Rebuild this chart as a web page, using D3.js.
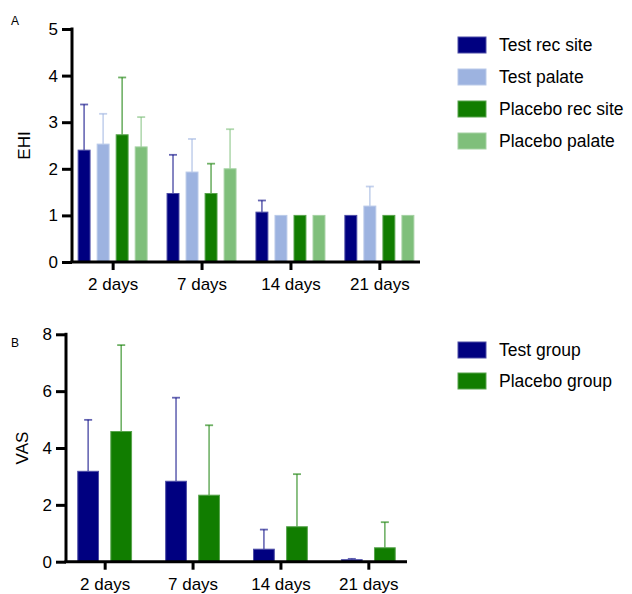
<!DOCTYPE html>
<html><head><meta charset="utf-8">
<script src="https://cdn.jsdelivr.net/npm/d3@7"></script>
<style>body{margin:0;background:#fff}svg{display:block}text{font-family:"Liberation Sans",Arial,Helvetica,sans-serif;fill:#000}</style>
</head><body><svg id="c" width="632" height="594"></svg>
<script>
const days = ["2 days","7 days","14 days","21 days"];
// Panel A (EHI)
const seriesA = ["Test rec site","Test palate","Placebo rec site","Placebo palate"];
const colorsA = ["#000080","#9db3e0","#117d00","#7fbf7b"];
const meanTestRec     = [2.40,1.47,1.07,1.00];
const upperTestRec    = [3.38,2.30,1.32,1.00];
const meanTestPal     = [2.53,1.93,1.00,1.20];
const upperTestPal    = [3.18,2.64,1.00,1.62];
const meanPlacRec     = [2.73,1.47,1.00,1.00];
const upperPlacRec    = [3.96,2.11,1.00,1.00];
const meanPlacPal     = [2.47,2.00,1.00,1.00];
const upperPlacPal    = [3.11,2.85,1.00,1.00];
const ticksA = [0,1,2,3,4,5];
// Panel B (VAS)
const seriesB = ["Test group","Placebo group"];
const colorsB = ["#000080","#117d00"];
const meanTestGrp  = [3.18,2.83,0.44,0.07];
const upperTestGrp = [4.99,5.77,1.13,0.10];
const meanPlacGrp  = [4.58,2.34,1.23,0.49];
const upperPlacGrp = [7.62,4.80,3.08,1.39];
const ticksB = [0,2,4,6,8];

const svg = d3.select("#c");

function panel(cfg){
  const g = svg.append("g");
  const x = d3.scalePoint().domain(days).range([cfg.x0,cfg.x1]).padding(cfg.pad);
  const xi = d3.scaleBand().domain(cfg.series).range([-cfg.half,cfg.half]).paddingInner(cfg.pin);
  const y = d3.scaleLinear().domain([0,cfg.ymax]).range([cfg.yb,cfg.yt]);
  const rows = [];
  cfg.series.forEach((s,si)=>{
    days.forEach((d,di)=>rows.push({s,si,d,m:cfg.means[si][di],u:cfg.uppers[si][di]}));
  });
  const eb = g.append("g");
  rows.filter(r=>r.u>r.m+0.001).forEach(r=>{
    const cx = x(r.d)+xi(r.s)+xi.bandwidth()/2;
    const col = cfg.colors[r.si];
    eb.append("line").attr("x1",cx).attr("x2",cx).attr("y1",y(r.m)).attr("y2",y(r.u))
      .attr("stroke",col).attr("stroke-opacity",0.6).attr("stroke-width",1.6);
    eb.append("line").attr("x1",cx-4).attr("x2",cx+4).attr("y1",y(r.u)).attr("y2",y(r.u))
      .attr("stroke",col).attr("stroke-opacity",0.6).attr("stroke-width",1.8);
  });
  g.append("g").selectAll("rect").data(rows).join("rect")
    .attr("x",r=>x(r.d)+xi(r.s)+0.5).attr("width",xi.bandwidth()-1)
    .attr("y",r=>y(r.m)).attr("height",r=>y(0)-y(r.m))
    .attr("fill",r=>cfg.colors[r.si])
    .attr("stroke",r=>d3.interpolateRgb(cfg.colors[r.si],"#fff")(0.3)).attr("stroke-width",1);
  const ya = g.append("g").attr("transform",`translate(${cfg.x0},0)`)
    .call(d3.axisLeft(y).tickValues(cfg.ticks).tickSize(10).tickPadding(4).tickFormat(d3.format("d")));
  const xa = g.append("g").attr("transform",`translate(0,${cfg.yb})`)
    .call(d3.axisBottom(x).tickSize(8).tickPadding(8));
  [ya,xa].forEach(a=>{
    a.select(".domain").attr("stroke","#000").attr("stroke-width",3).style("stroke-width","3px").style("stroke","#000");
    a.selectAll(".tick line").attr("stroke","#000").attr("stroke-width",3).style("stroke-width","3px").style("stroke","#000");
    a.selectAll("text").attr("font-size",17).attr("fill","#000").attr("font-family","Liberation Sans, Arial, sans-serif");
  });
  ya.select(".domain").attr("d",`M0,${cfg.yt-1.5}V${cfg.yb}`);
  xa.select(".domain").attr("d",`M${cfg.x0-1.5},0H${cfg.x1}`);
  g.append("text").attr("transform",`translate(${cfg.lx},${(cfg.yt+cfg.yb)/2}) rotate(-90)`)
    .attr("text-anchor","middle").attr("dy","0.35em").attr("font-size",17).text(cfg.ylabel);
  g.append("text").attr("x",11).attr("y",cfg.tagY).attr("font-size",12).text(cfg.tag);
  const lg = g.append("g");
  cfg.series.forEach((s,i)=>{
    const cy = cfg.legY + i*cfg.legStep;
    lg.append("rect").attr("x",458).attr("y",cy-8).attr("width",28).attr("height",16)
      .attr("fill",cfg.colors[i]).attr("stroke",d3.interpolateRgb(cfg.colors[i],"#fff")(0.3)).attr("stroke-width",1);
    lg.append("text").attr("x",499).attr("y",cy).attr("dy","0.35em").attr("font-size",17.5).text(s);
  });
}

panel({series:seriesA,colors:colorsA,means:[meanTestRec,meanTestPal,meanPlacRec,meanPlacPal],
  uppers:[upperTestRec,upperTestPal,upperPlacRec,upperPlacPal],ticks:ticksA,ymax:5,
  x0:72,x1:420,pad:0.457,half:35,pin:0.32,yb:262,yt:29,lx:24,ylabel:"EHI",tag:"A",tagY:25,legY:45,legStep:32});
panel({series:seriesB,colors:colorsB,means:[meanTestGrp,meanPlacGrp],uppers:[upperTestGrp,upperPlacGrp],
  ticks:ticksB,ymax:8,x0:66,x1:407,pad:0.44,half:27.4,pin:0.342,yb:561.7,yt:334.3,lx:22,ylabel:"VAS",tag:"B",tagY:347,legY:350,legStep:31});
</script></body></html>
